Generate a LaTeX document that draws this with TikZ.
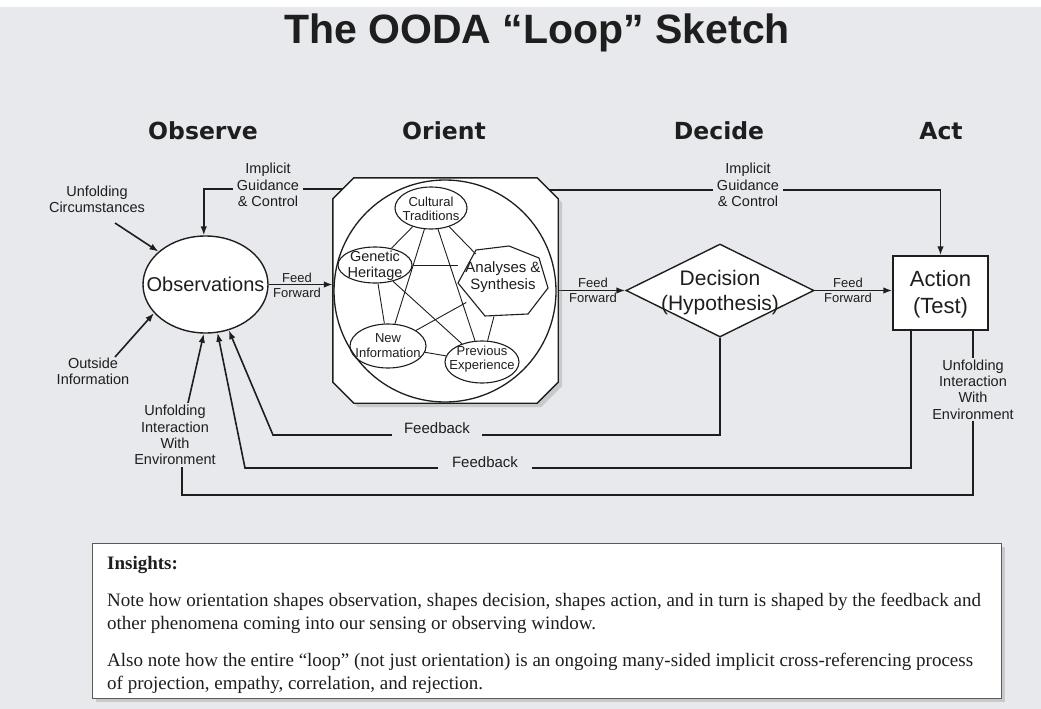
\documentclass[tikz,border=0pt]{standalone}
\usepackage{fontspec}
\setmainfont{Liberation Sans}
\newfontfamily\hdfont{DejaVu Sans}
\newfontfamily\insfont{Liberation Serif}
\usetikzlibrary{shapes.geometric,shadows,arrows.meta,calc}
\pgfdeclarelayer{bg}
\pgfsetlayers{bg,main}
\definecolor{bgc}{RGB}{232,233,236}
\definecolor{ink}{RGB}{30,30,30}
\begin{document}
\begin{tikzpicture}[x=1pt,y=-1pt,
  shapeline/.style={draw=ink, line width=1.4pt, fill=white},
  innershape/.style={draw=ink, line width=1.1pt, inner sep=0pt},
  conn/.style={draw=ink, line width=1.6pt},
  arr/.style={conn, -{Latex[length=9pt,width=6.5pt]}},
  innerline/.style={draw=ink, line width=0.9pt},
  lbl/.style={text=ink, align=center, inner sep=0pt},
  hd/.style={text=ink, font=\hdfont\bfseries\fontsize{23.5}{26}\selectfont},
  small/.style={lbl, font=\fontsize{14.5}{16.3}\selectfont},
  ffl/.style={lbl, font=\fontsize{13}{15}\selectfont},
  gap/.style={fill=bgc, inner xsep=4pt, inner ysep=2pt},
  shad/.style={drop shadow={opacity=0.3, shadow xshift=4pt, shadow yshift=-4pt}}
]
\useasboundingbox (0,0) rectangle (1041,709);

% ---------- nodes ----------
\node[text=ink, font=\bfseries\fontsize{41}{45}\selectfont] (title) at (537,33) {The OODA “Loop” Sketch};

\node[hd] (hobs) at (203,131) {Observe};
\node[hd] (hori) at (444,131) {Orient};
\node[hd] (hdec) at (719,131) {Decide};
\node[hd] (hact) at (941,131) {Act};

\node[ellipse, shapeline, minimum width=125pt, minimum height=97pt, inner sep=0pt] (obs) at (205.5,284.5) {};
\node[lbl, font=\fontsize{20}{24}\selectfont] (obstext) at (obs) {Observations};

% Orient box (chamfered outline drawn around a named rectangle node)
\node[rectangle, minimum width=225pt, minimum height=225pt, inner sep=0pt] (orient) at (445.5,290.5) {};
\path[shapeline, shad]
  ($(orient.north west)+(21,0)$) -- ($(orient.north east)+(-21,0)$) --
  ($(orient.north east)+(0,21)$) -- ($(orient.south east)+(0,-21)$) --
  ($(orient.south east)+(-21,0)$) -- ($(orient.south west)+(21,0)$) --
  ($(orient.south west)+(0,-21)$) -- ($(orient.north west)+(0,21)$) -- cycle;
\node[circle, innershape, line width=1.3pt, minimum size=222pt] (ocirc) at (445,291) {};

\node[ellipse, innershape, minimum width=72pt, minimum height=42pt] (cult) at (431,208) {};
\node[lbl, font=\fontsize{13}{14}\selectfont] (culttext) at (431,209) {Cultural\\Traditions};
\node[ellipse, innershape, minimum width=74pt, minimum height=36pt] (gen) at (375,265) {};
\node[lbl, font=\fontsize{14.5}{16}\selectfont] (gentext) at (375,265.5) {Genetic\\Heritage};
\node[ellipse, inner sep=0pt, minimum width=90pt, minimum height=70pt] (ana) at (503,282) {};
\draw[innershape] ($(ana)+(-45,1)$) -- ($(ana)+(-27,-32)$) -- ($(ana)+(6,-36)$) -- ($(ana)+(36,-24)$)
  -- ($(ana)+(45,6)$) -- ($(ana)+(25,32)$) -- ($(ana)+(-18,34)$) -- cycle;
\node[lbl, font=\fontsize{15}{17}\selectfont] (anatext) at (503,277.5) {Analyses \&\\Synthesis};
\node[ellipse, innershape, minimum width=76pt, minimum height=44pt] (newi) at (388,346) {};
\node[lbl, font=\fontsize{13}{15}\selectfont] (newitext) at (388,346) {New\\Information};
\node[ellipse, innershape, minimum width=74pt, minimum height=42pt] (prev) at (482,362) {};
\node[lbl, font=\fontsize{13}{14}\selectfont] (prevtext) at (482,359.5) {Previous\\Experience};

\node[diamond, shapeline, minimum width=188pt, minimum height=93pt, inner sep=0pt] (dec) at (720,290.5) {};
\node[lbl, font=\fontsize{21}{25}\selectfont] (dectext) at (720,292.5) {Decision\\(Hypothesis)};

\node[rectangle, shapeline, minimum width=95pt, minimum height=74pt, inner sep=0pt] (act) at (940.5,293) {};
\node[lbl, font=\fontsize{22}{27}\selectfont] (acttext) at (940.5,294) {Action\\(Test)};

\node[small] (uc) at (97,199.5) {Unfolding\\Circumstances};
\node[small, gap] (igl) at (268,185) {Implicit\\Guidance\\\& Control};
\node[small, gap] (igr) at (748,185) {Implicit\\Guidance\\\& Control};
\node[ffl] (ff1) at (297,285) {Feed\\Forward};
\node[ffl] (ff2) at (593,290) {Feed\\Forward};
\node[ffl] (ff3) at (848,290) {Feed\\Forward};
\node[small] (oi) at (93,371) {Outside\\Information};
\node[small, gap] (uil) at (175,435) {Unfolding\\Interaction\\With\\Environment};
\node[small, gap] (uir) at (973,389.5) {Unfolding\\Interaction\\With\\Environment};
\node[lbl, font=\fontsize{15}{17}\selectfont, fill=bgc, inner xsep=12pt, inner ysep=4pt] (fb1) at (437,428) {Feedback};
\node[lbl, font=\fontsize{15}{17}\selectfont, fill=bgc, inner xsep=14pt, inner ysep=4pt] (fb2) at (485,462) {Feedback};

% insights
\node[draw=black!65, line width=1pt, fill=white, shad, minimum width=909pt, minimum height=155pt, inner sep=0pt] (ins) at (546.5,620.5) {};
\node[anchor=base west, inner sep=0pt, text=ink, font=\insfont\bfseries\fontsize{19}{23}\selectfont] (ins0) at (107,569) {Insights:};
\node[anchor=base west, inner sep=0pt, text=ink, font=\insfont\fontsize{19}{23}\selectfont] (ins1) at (107,606.5) {Note how orientation shapes observation, shapes decision, shapes action, and in turn is shaped by the feedback and};
\node[anchor=base west, inner sep=0pt, text=ink, font=\insfont\fontsize{19}{23}\selectfont] (ins2) at (107,629.5) {other phenomena coming into our sensing or observing window.};
\node[anchor=base west, inner sep=0pt, text=ink, font=\insfont\fontsize{19}{23}\selectfont] (ins3) at (107,666.5) {Also note how the entire “loop” (not just orientation) is an ongoing many-sided implicit cross-referencing process};
\node[anchor=base west, inner sep=0pt, text=ink, font=\insfont\fontsize{19}{23}\selectfont] (ins4) at (107,689) {of projection, empathy, correlation, and rejection.};

% inner orient links
\draw[innerline] (cult) -- (gen);
\draw[innerline] (cult) -- (ana);
\draw[innerline] (gen.east) -- (gen.east -| ana.west);
\draw[innerline] (gen) -- (newi);
\draw[innerline] (gen) -- (prev);
\draw[innerline] (cult) -- (newi);
\draw[innerline] (cult) -- (prev);
\draw[innerline] (newi) -- (ana);
\draw[innerline] (ana) -- (prev);
\draw[innerline] (newi) -- (prev);

% ---------- connectors ----------
\coordinate (ucs) at (115,223);
\coordinate (ois) at (115,357);
\coordinate (fb1c) at (273,435);
\coordinate (fb2c) at (245,468);
\coordinate (blr) at (973,495);
\coordinate (bll) at (182,495);
\begin{pgfonlayer}{bg}
\fill[bgc] (0,0) rectangle (1041,709);
\fill[white] (0,0) rectangle (1041,7);
\draw[arr] (ucs) -- (obs.145);
\draw[arr] (ois) -- (obs.209);
\draw[arr] ([xshift=13pt]uil.north) -- (obs.268);
\draw[arr] (orient.center |- 0,189) -| (obs.92);
\draw[arr] (orient.center |- 0,190) -| (act.north);
\draw[arr] (obs.east) -- (obs.east -| orient.west);
\draw[arr] (orient.east |- dec.west) -- (dec.west);
\draw[arr] (dec.east) -- (dec.east -| act.west);
\draw[arr] (dec.south) |- (fb1c) -- (obs.297);
\draw[arr] (act.south -| 911,0) |- (fb2c) -- (obs.284);
\draw[conn] (act.south -| 973,0) -- (blr) -- (bll) -- (uil.south -| 182,0);
\end{pgfonlayer}
\end{tikzpicture}
\end{document}
